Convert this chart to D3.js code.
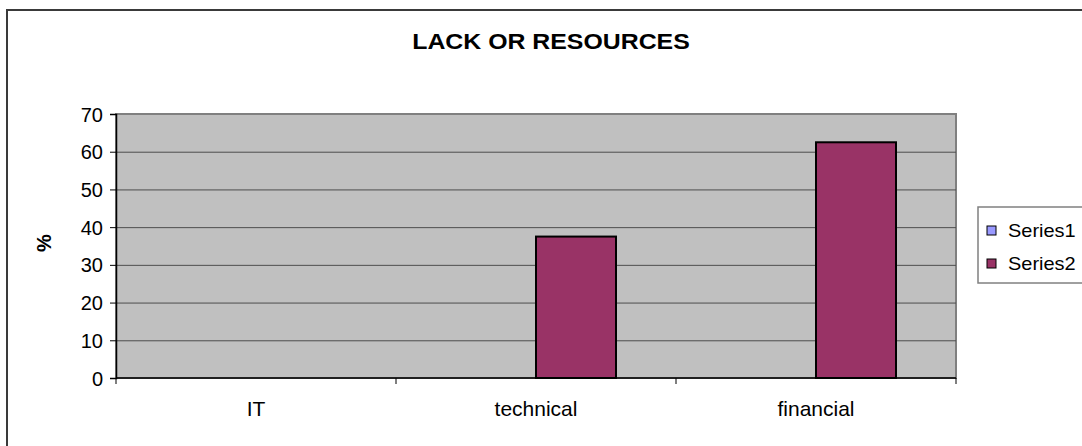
<!DOCTYPE html>
<html>
<head>
<meta charset="utf-8">
<script src="https://cdn.jsdelivr.net/npm/d3@7"></script>
<style>
  html, body { margin: 0; padding: 0; background: #fff; }
  svg { display: block; }
  text { font-family: "Liberation Sans", Arial, sans-serif; fill: #000; }
</style>
</head>
<body>
<svg id="chart" width="1082" height="446"></svg>
<script>
// Chart data
const categories = ["IT", "technical", "financial"];
const seriesNames = ["Series1", "Series2"];
const series1 = [0, 0, 0];
const series2 = [0, 37.5, 62.5];
const yTicks = [0, 10, 20, 30, 40, 50, 60, 70];
const seriesColors = ["#9999FF", "#993366"];

const svg = d3.select("#chart");
const W = 1082, H = 446;
const plot = { left: 116, right: 956, top: 114, bottom: 378 };

// Outer chart frame (runs past the right and bottom edges)
svg.append("rect")
  .attr("x", 7).attr("y", 10)
  .attr("width", W + 20).attr("height", H + 20)
  .attr("fill", "#fff").attr("stroke", "#3a3a3a").attr("stroke-width", 2);

const x = d3.scaleBand().domain(categories).range([plot.left, plot.right]);
const y = d3.scaleLinear().domain([0, 70]).range([plot.bottom, plot.top]);

// Plot area
svg.append("rect")
  .attr("x", plot.left).attr("y", plot.top)
  .attr("width", plot.right - plot.left).attr("height", plot.bottom - plot.top)
  .attr("fill", "#C0C0C0").attr("stroke", "#808080").attr("stroke-width", 2);

// Gridlines
svg.append("g").selectAll("line").data(yTicks.filter(d => d > 0 && d < 70)).join("line")
  .attr("x1", plot.left).attr("x2", plot.right)
  .attr("y1", d => y(d) + 0.5).attr("y2", d => y(d) + 0.5)
  .attr("stroke", "#4d4d4d").attr("stroke-width", 1);

// Bars: clustered, gap width 150%
const barW = x.bandwidth() / 3.5;
const allSeries = [series1, series2];
allSeries.forEach((vals, si) => {
  svg.append("g").selectAll("rect").data(vals.map((v, i) => ({ v, c: categories[i] })))
    .join("rect")
    .filter(d => d.v > 0)
    .attr("x", d => x(d.c) + x.bandwidth() / 2 - barW + si * barW)
    .attr("y", d => y(d.v))
    .attr("width", barW)
    .attr("height", d => y(0) - y(d.v))
    .attr("fill", seriesColors[si])
    .attr("stroke", "#000").attr("stroke-width", 2);
});

// Y axis
const yAxis = svg.append("g").attr("transform", `translate(${plot.left},0)`)
  .call(d3.axisLeft(y).tickValues(yTicks).tickSize(6).tickPadding(0).tickFormat(d3.format("d")));
yAxis.select(".domain").attr("stroke", "#000").attr("stroke-width", 1.5);
yAxis.selectAll(".tick line").attr("stroke", "#000");
yAxis.selectAll(".tick text").remove();
yAxis.selectAll(".tick").append("text")
  .attr("transform", "translate(-13,0)")
  .attr("text-anchor", "end").attr("dy", "0.35em")
  .style("font-size", "20px")
  .text(d => d);

// X axis with ticks on category boundaries
const xAxisG = svg.append("g").attr("transform", `translate(0,${plot.bottom})`);
xAxisG.append("line")
  .attr("x1", plot.left).attr("x2", plot.right)
  .attr("stroke", "#000").attr("stroke-width", 1.5);
const bounds = categories.map(c => x(c)).concat([plot.right]);
xAxisG.selectAll(".bt").data(bounds).join("line").attr("class", "bt")
  .attr("x1", d => d).attr("x2", d => d).attr("y1", 0).attr("y2", 6)
  .attr("stroke", "#000");
xAxisG.selectAll(".cl").data(categories).join("text").attr("class", "cl")
  .attr("transform", d => `translate(${x(d) + x.bandwidth() / 2},38)`)
  .attr("text-anchor", "middle")
  .style("font-size", "21px")
  .text(d => d);

// Axis title
svg.append("text")
  .attr("transform", "translate(51,243) rotate(-90)")
  .attr("text-anchor", "middle")
  .style("font-size", "20px").style("font-weight", "bold")
  .text("%");

// Chart title
svg.append("text")
  .attr("transform", "translate(551,49) scale(1.13,1)")
  .attr("text-anchor", "middle")
  .style("font-size", "22px").style("font-weight", "bold")
  .text("LACK OR RESOURCES");

// Legend
const lg = svg.append("g").attr("transform", "translate(978,207)");
lg.append("rect").attr("width", 130).attr("height", 76)
  .attr("fill", "#fff").attr("stroke", "#808080").attr("stroke-width", 1.5);
const items = lg.selectAll(".li").data(seriesNames).join("g").attr("class", "li")
  .attr("transform", (d, i) => `translate(9,${23 + i * 33})`);
items.append("rect").attr("x", 0).attr("y", -4).attr("width", 9).attr("height", 9)
  .attr("fill", (d, i) => seriesColors[i]).attr("stroke", "#000").attr("stroke-width", 1);
items.append("text")
  .attr("transform", "translate(21,0) scale(1.05,1)")
  .attr("dy", "0.35em")
  .style("font-size", "19px")
  .text(d => d);
</script>
</body>
</html>
